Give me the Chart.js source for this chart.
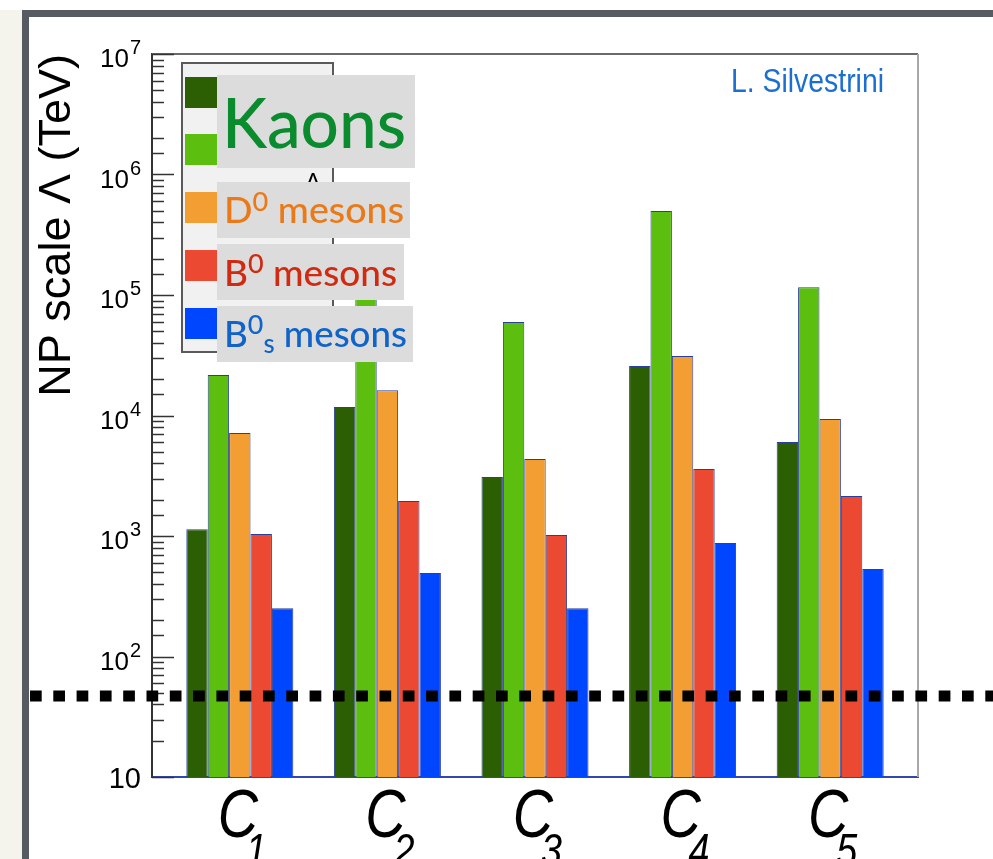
<!DOCTYPE html>
<html><head><meta charset="utf-8">
<script src="https://cdn.jsdelivr.net/npm/chart.js@4.4.1/dist/chart.umd.min.js"></script>
<style>html,body{margin:0;padding:0;background:#fff;overflow:hidden}#wrap{width:993px;height:859px;position:relative}canvas{display:block}</style>
</head><body><div id="wrap"><canvas id="c" width="993" height="859"></canvas></div>
<script>
// ---- data ----
const categories = ['C', 'C', 'C', 'C', 'C'];
const categorySubscripts = ['1', '2', '3', '4', '5'];
const kaonsRe  = [1140, 11750, 3090, 25700, 6030];
const kaonsIm  = [21700, 95000, 59700, 498000, 116000];
const dMesons  = [7160, 16200, 4360, 31200, 9350];
const bdMesons = [1040, 1950, 1020, 3600, 2150];
const bsMesons = [252, 493, 252, 875, 532];
const yTickBase = '10';
const yTickExponents = {10: '', 100: '2', 1000: '3', 10000: '4', 100000: '5', 1000000: '6', 10000000: '7'};
const lhcScale = 47;
const yAxisTitle = 'NP scale Λ (TeV)';
const author = 'L. Silvestrini';

const seriesNames = ['Kaons (Re)', 'Kaons (Im)', 'D0 mesons', 'B0 mesons', 'Bs mesons'];
const seriesValues = [kaonsRe, kaonsIm, dMesons, bdMesons, bsMesons];
const seriesColors = ['#2c5f04', '#5cbf10', '#f39e33', '#ec4932', '#0046ff'];

const datasets = seriesValues.map((vals, k) => ({
  label: seriesNames[k],
  data: vals.map((v, i) => ({x: i + 1, y: v})),
  backgroundColor: seriesColors[k],
  borderColor: '#2a3f9c',
  borderWidth: 1,
  borderSkipped: 'bottom',
  barPercentage: 1.0,
  categoryPercentage: 0.725
}));

function drawPieces(ctx, pieces, x, baseline, targetWidth, color) {
  let total = 0;
  pieces.forEach(p => { ctx.font = '500 ' + p[1] + 'px Lato, "Open Sans", sans-serif'; total += ctx.measureText(p[0]).width; });
  const sx = targetWidth / total;
  ctx.save();
  ctx.translate(x, baseline);
  ctx.scale(sx, 1);
  ctx.fillStyle = color;
  ctx.textBaseline = 'alphabetic';
  ctx.textAlign = 'left';
  let cx = 0;
  pieces.forEach(p => {
    ctx.font = '500 ' + p[1] + 'px Lato, "Open Sans", sans-serif';
    ctx.fillText(p[0], cx, p[2]);
    cx += ctx.measureText(p[0]).width;
  });
  ctx.restore();
}

const bgPlugin = {
  id: 'bg',
  beforeDraw(chart) {
    const ctx = chart.ctx;
    ctx.save();
    ctx.fillStyle = '#ffffff';
    ctx.fillRect(0, 0, 993, 859);
    ctx.fillStyle = '#f5f4ec';
    ctx.fillRect(0, 10, 22, 849);
    ctx.fillStyle = '#565b61';
    ctx.fillRect(22, 10, 971, 7);
    ctx.fillRect(22, 10, 7, 849);
    ctx.restore();
  }
};

const overlayPlugin = {
  id: 'overlay',
  afterDraw(chart) {
    const ctx = chart.ctx;
    const a = chart.chartArea;
    const ys = chart.scales.y, xs = chart.scales.x;
    ctx.save();
    // frame top and right
    ctx.strokeStyle = '#6a6a6a'; ctx.lineWidth = 2;
    ctx.beginPath(); ctx.moveTo(a.left, a.top); ctx.lineTo(a.right, a.top); ctx.stroke();
    ctx.strokeStyle = '#a8a8a8';
    ctx.beginPath(); ctx.moveTo(a.right, a.top); ctx.lineTo(a.right, a.bottom); ctx.stroke();
    // inner tick marks + decade labels from the log scale
    ctx.strokeStyle = '#333'; ctx.lineWidth = 1.5;
    ys.ticks.forEach(t => {
      const py = ys.getPixelForValue(t.value);
      const lg = Math.log10(t.value);
      const major = Math.abs(lg - Math.round(lg)) < 1e-9;
      ctx.beginPath(); ctx.moveTo(a.left, Math.round(py) + 0.5); ctx.lineTo(a.left + (major ? 22 : 12), Math.round(py) + 0.5); ctx.stroke();
      if (major) {
        const exp = yTickExponents[Math.round(t.value)];
        ctx.fillStyle = '#000'; ctx.textBaseline = 'alphabetic'; ctx.textAlign = 'right';
        const right = a.left - 11;
        if (exp) {
          ctx.font = '20px "Liberation Sans", Arial, sans-serif';
          const ew = ctx.measureText(exp).width;
          ctx.fillText(exp, right, py + 0);
          ctx.font = '26px "Liberation Sans", Arial, sans-serif';
          ctx.fillText(yTickBase, right - ew - 1, py + 13);
        } else {
          ctx.font = '29px "Liberation Sans", Arial, sans-serif';
          ctx.fillText(yTickBase, right, py + 11);
        }
      }
    });
    // dashed reference line
    const dy = ys.getPixelForValue(lhcScale);
    ctx.strokeStyle = '#000'; ctx.lineWidth = 11; ctx.setLineDash([11.7, 11.6]);
    ctx.beginPath(); ctx.moveTo(30, dy); ctx.lineTo(993, dy); ctx.stroke();
    ctx.setLineDash([]);
    // category labels C_i
    ctx.fillStyle = '#000';
    categories.forEach((c, i) => {
      const cx = xs.getPixelForValue(i + 1);
      ctx.save();
      ctx.translate(cx, 0);
      ctx.scale(0.82, 1);
      ctx.textAlign = 'center'; ctx.textBaseline = 'alphabetic';
      ctx.font = 'italic 68px "Liberation Sans", Arial, sans-serif';
      ctx.fillText(c, -2 / 0.82, 837);
      ctx.textAlign = 'left';
      ctx.font = 'italic 46px "Liberation Sans", Arial, sans-serif';
      ctx.fillText(categorySubscripts[i], 6 / 0.82, 866);
      ctx.restore();
    });
    // legend frame
    ctx.fillStyle = '#f1f1f1'; ctx.strokeStyle = '#5a5a5a'; ctx.lineWidth = 2;
    ctx.fillRect(182, 63, 151, 289); ctx.strokeRect(182, 63, 151, 289);
    const swY = [77, 134, 192, 250, 308];
    chart.data.datasets.forEach((d, k) => { ctx.fillStyle = d.backgroundColor; ctx.fillRect(185, swY[k], 32, 31); });
    // partially hidden original legend glyph
    ctx.fillStyle = '#000'; ctx.textAlign = 'center'; ctx.textBaseline = 'alphabetic';
    ctx.font = '24px "Liberation Sans", Arial, sans-serif';
    ctx.fillText('Λ', 313, 190);
    // label boxes
    ctx.fillStyle = '#dcdcdd';
    ctx.fillRect(217, 75, 198, 93);
    ctx.fillRect(217, 182, 193, 56);
    ctx.fillRect(217, 244, 187, 56);
    ctx.fillRect(217, 306, 196, 56);
    drawPieces(ctx, [['Kaons', 70, 0]], 222, 148, 184, '#0a8c2e');
    drawPieces(ctx, [['D', 36, 0], ['0', 26, -12], [' mesons', 36, 0]], 224, 223, 180, '#ea7a18');
    drawPieces(ctx, [['B', 37, 0], ['0', 27, -13], [' mesons', 37, 0]], 224, 286, 173, '#d02a10');
    drawPieces(ctx, [['B', 37, 0], ['0', 27, -13], ['s', 26, 6], [' mesons', 37, 0]], 224, 347, 183, '#1063c9');
    // author
    ctx.save();
    ctx.font = '33px "Liberation Sans", Arial, sans-serif';
    const w = ctx.measureText(author).width;
    ctx.translate(731, 92); ctx.scale(153 / w, 1);
    ctx.fillStyle = '#1b6fd0'; ctx.textAlign = 'left'; ctx.textBaseline = 'alphabetic';
    ctx.fillText(author, 0, 0);
    ctx.restore();
    ctx.restore();
  }
};

new Chart(document.getElementById('c'), {
  type: 'bar',
  data: {datasets},
  options: {
    responsive: false,
    devicePixelRatio: 1,
    animation: false,
    layout: {padding: {left: 30, top: 54, right: 75, bottom: 82}},
    plugins: {legend: {display: false}, tooltip: {enabled: false}},
    scales: {
      x: {
        type: 'linear',
        offset: false,
        min: 0.405, max: 5.595,
        afterBuildTicks: s => { s.ticks = categories.map((c, i) => ({value: i + 1})); },
        ticks: {display: false},
        grid: {display: false, drawTicks: false, offset: false},
        border: {display: true, color: '#3048b0', width: 2}
      },
      y: {
        type: 'logarithmic',
        min: 10, max: 1e7,
        afterFit: s => { s.width = 122; },
        ticks: {display: false, autoSkip: false},
        grid: {display: false, drawTicks: false},
        border: {display: true, color: '#333', width: 2},
        title: {
          display: true, text: yAxisTitle, align: 'end', color: '#000',
          font: {family: '"Liberation Sans", Arial, sans-serif', size: 45},
          padding: {top: 1, bottom: 0}
        }
      }
    }
  },
  plugins: [bgPlugin, overlayPlugin]
});
</script>
</body></html>
